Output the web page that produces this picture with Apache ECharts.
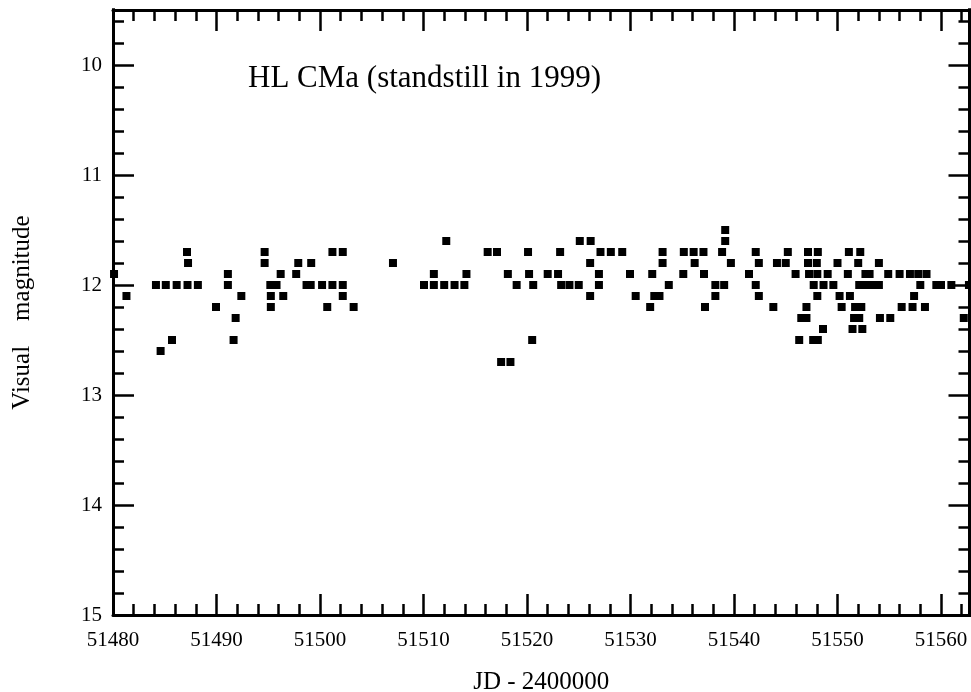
<!DOCTYPE html>
<html>
<head>
<meta charset="utf-8">
<script src="https://cdn.jsdelivr.net/npm/echarts@6/dist/echarts.min.js"></script>
<style>
html,body{margin:0;padding:0;background:#fff;}
#chart{width:971px;height:692px;}
</style>
</head>
<body>
<div id="chart"></div>
<script>
// Observations: Julian Date - 2400000 and visual magnitude
const jd = [
51480.1,51481.3,51484.15,51484.6,51485.1,51485.7,51486.15,51487.15,51487.25,51487.2,
51488.2,51489.95,51491.1,51491.1,51491.85,51491.65,51492.4,51494.65,51494.65,51495.2,
51495.8,51495.25,51495.25,51496.2,51496.45,51497.7,51497.9,51498.7,51499.1,51499.15,
51500.2,51500.7,51501.2,51501.2,51502.2,51502.2,51502.2,51503.25,51507.05,51510.05,
51511.0,51511.0,51512.0,51512.2,51513.0,51513.95,51514.15,51516.2,51517.1,51517.5,
51518.4,51518.15,51519.0,51520.1,51520.2,51520.5,51520.6,51522.0,51523.0,51523.2,
51523.3,51524.1,51525.0,51525.1,51526.15,51526.1,51526.1,51526.95,51526.95,51527.1,
51528.1,51529.2,51529.95,51530.5,51531.9,51532.1,51532.3,51532.8,51533.1,51533.1,
51533.7,51535.15,51536.1,51537.05,51535.1,51536.2,51537.1,51537.2,51538.2,51538.2,
51539.05,51538.85,51539.15,51539.15,51539.7,51541.45,51542.1,51542.1,51542.4,51542.4,
51543.8,51544.15,51545.0,51545.2,51545.95,51546.3,51546.5,51547.0,51547.15,51547.15,
51547.25,51548.05,51549.05,51547.0,51547.65,51548.1,51548.1,51548.0,51547.7,51548.65,
51549.6,51548.05,51548.6,51550.0,51551.0,51550.4,51550.2,51551.2,51551.1,51552.2,
51552.0,51552.1,51552.8,51553.5,51554.0,51551.7,51552.3,51551.6,51552.1,51551.45,
51552.4,51552.7,51553.1,51554.0,51554.1,51555.1,51554.9,51556.0,51557.0,51557.8,
51558.6,51556.2,51557.25,51558.45,51557.4,51558.0,51559.55,51560.0,51561.0,51562.7,
51562.2
];
const mag = [
11.9,12.1,12.0,12.6,12.0,12.5,12.0,11.7,11.8,12.0,
12.0,12.2,11.9,12.0,12.3,12.5,12.1,11.7,11.8,12.0,
12.0,12.1,12.2,11.9,12.1,11.9,11.8,12.0,12.0,11.8,
12.0,12.2,11.7,12.0,11.7,12.0,12.1,12.2,11.8,12.0,
11.9,12.0,12.0,11.6,12.0,12.0,11.9,11.7,11.7,12.7,
12.7,11.9,12.0,11.7,11.9,12.5,12.0,11.9,11.9,11.7,
12.0,12.0,12.0,11.6,11.6,11.8,12.1,11.9,12.0,11.7,
11.7,11.7,11.9,12.1,12.2,11.9,12.1,12.1,11.7,11.8,
12.0,11.7,11.7,11.7,11.9,11.8,11.9,12.2,12.0,12.1,
12.0,11.7,11.5,11.6,11.8,11.9,11.7,12.0,11.8,12.1,
12.2,11.8,11.8,11.7,11.9,12.5,12.3,12.3,11.7,11.8,
11.9,11.9,11.9,12.2,12.5,12.5,11.7,11.8,12.0,12.0,
12.0,12.1,12.4,11.8,11.9,12.2,12.1,12.1,11.7,11.7,
11.8,12.0,12.0,12.0,12.0,12.2,12.2,12.3,12.3,12.4,
12.4,11.9,11.9,11.8,12.3,12.3,11.9,11.9,11.9,11.9,
11.9,12.2,12.2,12.2,12.1,12.0,12.0,12.0,12.0,12.0,
12.3
];
const xTickLabels = ['51480','51490','51500','51510','51520','51530','51540','51550','51560'];
const yTickLabels = ['10','11','12','13','14','15'];
const titleText = 'HL CMa (standstill in 1999)';
const xName = 'JD - 2400000';
const yName = 'Visual    magnitude';

const points = jd.map((x, i) => [x, mag[i]]);
const FONT = '"Liberation Serif", "DejaVu Serif", serif';
const axisLineOpt = { show: true, onZero: false, lineStyle: { color: '#000', width: 3 } };
const tickMaj = { show: true, inside: true, length: 21, lineStyle: { color: '#000', width: 2.5 } };
const tickMin = { show: true, splitNumber: 5, length: 11, lineStyle: { color: '#000', width: 2.5 } };
const nameStyle = { fontFamily: FONT, fontSize: 25, color: '#000' };

const chart = echarts.init(document.getElementById('chart'), null, { renderer: 'canvas' });
chart.setOption({
  animation: false,
  backgroundColor: '#fff',
  title: {
    text: titleText, left: 248, top: 63, padding: 0,
    textStyle: { fontFamily: FONT, fontSize: 31, fontWeight: 'normal', color: '#000' }
  },
  grid: [
    { left: 113, right: -73.5, top: -45, bottom: 77, containLabel: false, outerBoundsMode: 'none' },
    { left: 113, right: -73.5, top: 10, bottom: 77, containLabel: false, outerBoundsMode: 'none' },
    { left: 113, right: 1.5, top: -45, bottom: 77, containLabel: false, outerBoundsMode: 'none' }
  ],
  xAxis: [
    {
      gridIndex: 0, type: 'value', position: 'bottom', min: 51480, max: 51570, interval: 10,
      axisLine: axisLineOpt, axisTick: tickMaj, minorTick: tickMin,
      splitLine: { show: false },
      axisLabel: {
        margin: 15, fontFamily: FONT, fontSize: 21, color: '#000',
        formatter: v => { const s = String(Math.round(v)); return xTickLabels.indexOf(s) >= 0 ? s : ''; }
      }
    },
    {
      gridIndex: 1, type: 'value', position: 'top', min: 51480, max: 51570, interval: 10,
      axisLine: axisLineOpt, axisTick: tickMaj, minorTick: tickMin,
      splitLine: { show: false }, axisLabel: { show: false }
    },
    {
      gridIndex: 2, type: 'value', position: 'bottom', min: 0, max: 1,
      axisLine: { show: false, onZero: false }, axisTick: { show: false }, axisLabel: { show: false },
      splitLine: { show: false },
      name: xName, nameLocation: 'middle', nameGap: 55, nameTextStyle: nameStyle
    }
  ],
  yAxis: [
    {
      gridIndex: 0, type: 'value', position: 'left', inverse: true, min: 9, max: 15, interval: 1,
      axisLine: axisLineOpt, axisTick: tickMaj, minorTick: tickMin,
      splitLine: { show: false },
      axisLabel: {
        margin: 11, fontFamily: FONT, fontSize: 21, color: '#000',
        formatter: v => { const s = String(Math.round(v)); return yTickLabels.indexOf(s) >= 0 ? s : ''; }
      }
    },
    {
      gridIndex: 1, type: 'value', position: 'left', min: 0, max: 1,
      axisLine: { show: false, onZero: false }, axisTick: { show: false }, axisLabel: { show: false },
      splitLine: { show: false },
      name: yName, nameLocation: 'middle', nameGap: 78, nameRotate: 90, nameTextStyle: nameStyle
    },
    {
      gridIndex: 2, type: 'value', position: 'right', inverse: true, min: 9, max: 15, interval: 1,
      axisLine: axisLineOpt, axisTick: tickMaj, minorTick: tickMin,
      splitLine: { show: false }, axisLabel: { show: false }
    }
  ],
  graphic: [
    { type: 'rect', z: 100, shape: { x: 0, y: 0, width: 971, height: 8.3 }, style: { fill: '#fff' } }
  ],
  series: [{
    type: 'scatter', xAxisIndex: 0, yAxisIndex: 0,
    symbol: 'rect', symbolSize: 8,
    itemStyle: { color: '#000', opacity: 1 },
    data: points
  }]
});
</script>
</body>
</html>
